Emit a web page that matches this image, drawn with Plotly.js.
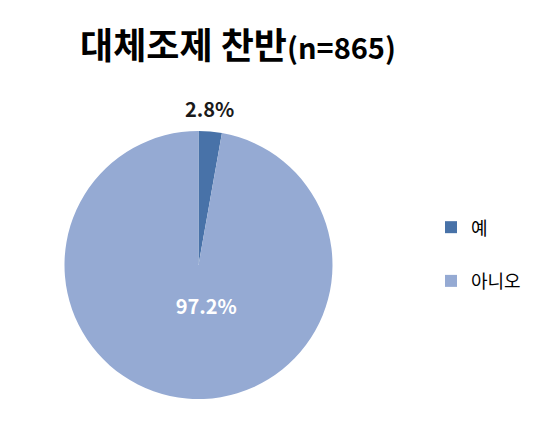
<!DOCTYPE html>
<html>
<head>
<meta charset="utf-8">
<script src="https://cdn.plot.ly/plotly-3.0.1.min.js"></script>
<style>
  html, body { margin: 0; padding: 0; background: #fff; }
  #chart { width: 555px; height: 427px; }
</style>
</head>
<body>
<div id="chart"></div>
<script>
// Survey: support for generic substitution (n=865), share of answers in percent
const labels = ['예', '아니오'];
const shares = [2.8, 97.2];
const sliceColors = ['#4872A8', '#95AAD3'];

const W = 555, H = 427;
const cx = 198.5, cy = 265, r = 134;   // pie centre / radius in px

const KR = '"Noto Sans CJK KR", "Noto Sans", sans-serif';
const NBSP = '\u00a0';

// legend text: visible label on the first line, an empty second line for spacing
const legendLabels = labels.map(l => "<span style='font-size:18px'>" + l + "</span><br>" + NBSP);

// the big slice keeps its own label; padding nudges it up and to the right
const textTemplates = ['', NBSP.repeat(6) + '%{percent:.1%}<br>' + NBSP + '<br>' + NBSP];

const trace = {
  type: 'pie',
  labels: legendLabels,
  values: shares,
  sort: false,
  direction: 'clockwise',
  rotation: 0,
  marker: { colors: sliceColors, line: { width: 0 } },
  texttemplate: textTemplates,
  textposition: ['none', 'inside'],
  textfont: { family: KR, size: 20, color: '#ffffff', weight: 'bold' },
  insidetextorientation: 'horizontal',
  hoverinfo: 'none',
  domain: {
    x: [(cx - r) / W, (cx + r) / W],
    y: [(H - cy - r) / H, (H - cy + r) / H]
  }
};

const layout = {
  width: W,
  height: H,
  margin: { l: 0, r: 0, t: 0, b: 0 },
  paper_bgcolor: '#ffffff',
  showlegend: true,
  title: {
    text: "<b>대체조제 찬반<span style='font-size:29px'>(n=865)</span></b>",
    font: { family: KR, size: 36, color: '#000000' },
    x: 238 / W,
    xanchor: 'center',
    xref: 'paper',
    y: 1 - 46 / H,
    yanchor: 'middle',
    yref: 'container'
  },
  legend: {
    x: 431 / W,
    xanchor: 'left',
    y: 1 - 208 / H,
    yanchor: 'top',
    valign: 'top',
    font: { family: KR, size: 19.5, color: '#000000' },
    bgcolor: 'rgba(0,0,0,0)'
  },
  // label of the thin slice, set just above the top of the pie
  annotations: [{
    text: '<b>' + shares[0].toFixed(1) + '%</b>',
    xref: 'paper', yref: 'paper',
    x: (cx + 11) / W,
    y: (H - cy + r + 22) / H,
    xanchor: 'center', yanchor: 'middle',
    showarrow: false,
    font: { family: KR, size: 20, color: '#1a1a1a' }
  }]
};

Plotly.newPlot('chart', [trace], layout, { displayModeBar: false, staticPlot: true });
</script>
</body>
</html>
